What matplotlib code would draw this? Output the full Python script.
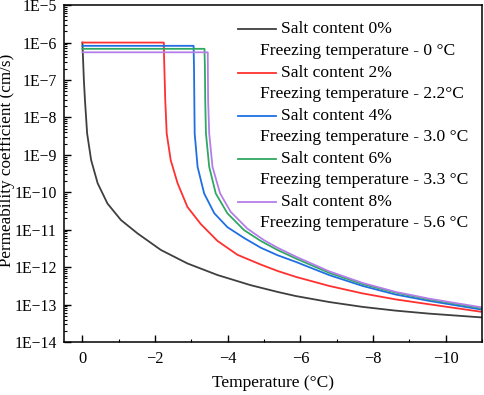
import numpy as np
import matplotlib
matplotlib.use("Agg")
import matplotlib.pyplot as plt

plt.rcParams["font.family"] = ["Liberation Serif", "DejaVu Serif"]

# values (temperature in degC, log10 of k in cm/s)
t_0 = [0, -0.02, -0.04, -0.07, -0.13, -0.24, -0.42, -0.69, -1.06, -1.52, -2.16, -2.89, -3.72,
       -4.63, -5.37, -5.87, -6.79, -7.71, -8.62, -9.54, -10.97]
lk_0 = [-6.0, -6.5, -7.0, -7.54, -8.43, -9.14, -9.76, -10.30, -10.74, -11.10, -11.54, -11.90, -12.21,
        -12.48, -12.66, -12.77, -12.93, -13.06, -13.16, -13.24, -13.34]

t_2 = [0, -2.24, -2.25, -2.265, -2.28, -2.32, -2.43, -2.62, -2.89, -3.26, -3.72, -4.27, -4.91,
       -5.37, -5.88, -6.79, -7.71, -8.62, -9.54, -10.97]
lk_2 = [-6.0, -6.0, -6.5, -7.0, -7.54, -8.43, -9.14, -9.76, -10.39, -10.85, -11.3, -11.67, -11.93,
        -12.10, -12.26, -12.5, -12.7, -12.86, -12.99, -13.19]

t_4 = [0, -3.06, -3.07, -3.075, -3.08, -3.09, -3.17, -3.35, -3.63, -3.99, -4.45, -4.91,
       -5.37, -5.88, -6.79, -7.71, -8.62, -9.54, -10.97]
lk_4 = [-6.087, -6.087, -6.6, -7.0, -7.54, -8.43, -9.32, -10.03, -10.56, -10.93, -11.22, -11.48,
        -11.68, -11.86, -12.21, -12.5, -12.73, -12.9, -13.13]

t_6 = [0, -3.36, -3.37, -3.375, -3.38, -3.40, -3.49, -3.67, -3.99, -4.45, -4.91,
       -5.37, -5.88, -6.79, -7.71, -8.62, -9.54, -10.97]
lk_6 = [-6.167, -6.167, -6.6, -7.0, -7.54, -8.43, -9.32, -10.03, -10.56, -11.01, -11.3,
        -11.54, -11.77, -12.15, -12.45, -12.68, -12.86, -13.09]

t_8 = [0, -3.45, -3.455, -3.46, -3.49, -3.58, -3.79, -4.08, -4.54, -5.0,
       -5.37, -5.88, -6.79, -7.71, -8.62, -9.54, -10.97]
lk_8 = [-6.26, -6.26, -7.0, -7.54, -8.43, -9.32, -10.03, -10.52, -10.97, -11.28,
        -11.48, -11.72, -12.11, -12.42, -12.66, -12.84, -13.07]

salt_labels = ["Salt content 0%", "Salt content 2%", "Salt content 4%", "Salt content 6%", "Salt content 8%"]
freeze_labels = ["Freezing temperature - 0 \u00b0C", "Freezing temperature - 2.2\u00b0C",
                 "Freezing temperature - 3.0 \u00b0C", "Freezing temperature - 3.3 \u00b0C",
                 "Freezing temperature - 5.6 \u00b0C"]
colors = ["#3f3f3f", "#ff3030", "#1f6fe3", "#2fa862", "#b47ee8"]

x_ticks = [0, -2, -4, -6, -8, -10]
x_tick_labels = ["0", "\u22122", "\u22124", "\u22126", "\u22128", "\u221210"]
y_exps = [-14, -13, -12, -11, -10, -9, -8, -7, -6, -5]

series = [(t_0, lk_0), (t_2, lk_2), (t_4, lk_4), (t_6, lk_6), (t_8, lk_8)]

fig = plt.figure(figsize=(4.84, 3.95), dpi=100)
ax = fig.add_axes([0.132, 0.134, 0.864, 0.853])

for (t, lk), c in zip(series, colors):
    ax.plot(t, 10.0 ** np.array(lk), color=c, lw=1.3)

ax.set_yscale("log")
ax.set_xlim(0.51, -10.97)
ax.set_ylim(1e-14, 1e-5)

ax.set_xticks(x_ticks)
ax.set_xticklabels(x_tick_labels)
ax.set_xticks(np.arange(-11, 0, 2), minor=True)
ax.set_yticks([10.0 ** e for e in y_exps])
ax.set_yticklabels(["1E\u2212%d" % (-e) for e in y_exps])
ax.yaxis.set_minor_locator(matplotlib.ticker.LogLocator(base=10, subs=np.arange(2, 10), numticks=30))
ax.yaxis.set_minor_formatter(matplotlib.ticker.NullFormatter())

ax.tick_params(axis="both", which="major", direction="in", length=5, width=1, labelsize=11.3, pad=5)
ax.tick_params(axis="both", which="minor", direction="in", length=2.5, width=0.8)
ax.tick_params(axis="x", pad=6.5, labelsize=11.8)
for s in ax.spines.values():
    s.set_linewidth(1.1)

ax.set_xlabel("Temperature (\u00b0C)", fontsize=12.5, labelpad=6)
ax.set_ylabel("Permeability coefficient (cm/s)", fontsize=12.3)
ax.yaxis.set_label_coords(-0.117, 0.54)

# legend drawn by hand: a line + label, then a second unmarked line of text
row0 = 29.3
step = 43.1
for i in range(5):
    y1 = 1 - (row0 + step * i - 5) / 337
    y2 = 1 - (row0 + step * i + 21.5 - 5) / 337
    ax.plot([(238 - 64) / 418, (276 - 64) / 418], [y1, y1], color=colors[i], lw=1.3,
            transform=ax.transAxes, clip_on=False)
    ax.text((281 - 64) / 418, y1, salt_labels[i], transform=ax.transAxes,
            fontsize=12.6, va="center", ha="left")
    ax.text((260 - 64) / 418, y2, freeze_labels[i], transform=ax.transAxes,
            fontsize=12.6, va="center", ha="left")

fig.savefig("out.png", dpi=100)
